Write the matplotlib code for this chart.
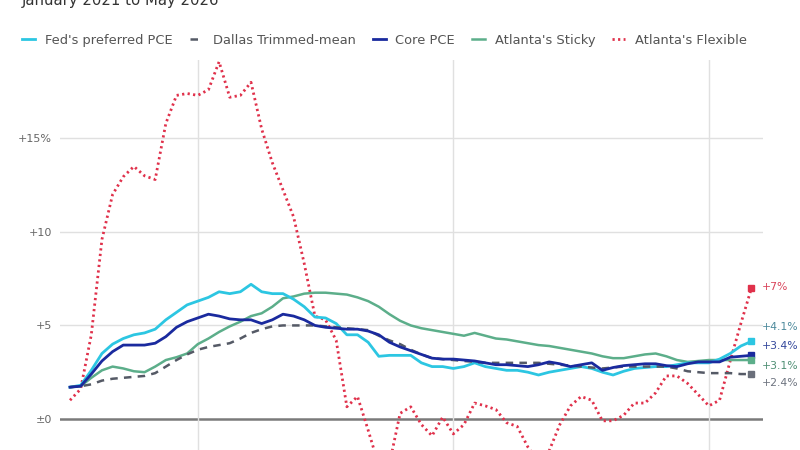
import numpy as np
import matplotlib.pyplot as plt

# monthly values, Jan 2021 .. May 2026 (65 months)
fed_pce = [1.7, 1.8, 2.6, 3.5, 4.0, 4.3, 4.5, 4.6, 4.8, 5.3, 5.7, 6.1, 6.3, 6.5, 6.8, 6.7,
           6.8, 7.2, 6.8, 6.7, 6.7, 6.4, 6.0, 5.45, 5.4, 5.1, 4.5, 4.5, 4.1, 3.35, 3.4, 3.4,
           3.4, 3.0, 2.8, 2.8, 2.7, 2.8, 3.0, 2.8, 2.7, 2.6, 2.6, 2.5, 2.35, 2.5, 2.6, 2.7,
           2.8, 2.7, 2.5, 2.35, 2.55, 2.7, 2.75, 2.8, 2.8, 2.9, 3.0, 3.0, 3.0, 3.2, 3.5, 3.9, 4.15]
dallas = [1.7, 1.75, 1.85, 2.05, 2.15, 2.2, 2.25, 2.3, 2.45, 2.8, 3.15, 3.45, 3.7, 3.85, 3.95, 4.05,
          4.3, 4.6, 4.8, 4.95, 5.0, 5.0, 5.0, 5.0, 4.95, 4.9, 4.85, 4.8, 4.75, 4.45, 4.2, 4.0,
          3.7, 3.45, 3.25, 3.2, 3.15, 3.1, 3.05, 3.0, 3.0, 3.0, 3.0, 3.0, 3.0, 2.95, 2.9, 2.85,
          2.8, 2.75, 2.7, 2.75, 2.8, 2.8, 2.8, 2.8, 2.8, 2.7, 2.55, 2.5, 2.45, 2.45, 2.45, 2.4, 2.4]
core_pce = [1.7, 1.75, 2.4, 3.1, 3.6, 3.95, 3.95, 3.95, 4.05, 4.4, 4.9, 5.2, 5.4, 5.6, 5.5, 5.35,
            5.3, 5.3, 5.1, 5.3, 5.6, 5.5, 5.3, 5.0, 4.9, 4.85, 4.8, 4.8, 4.7, 4.5, 4.1, 3.85,
            3.65, 3.45, 3.25, 3.2, 3.2, 3.15, 3.1, 3.0, 2.9, 2.9, 2.85, 2.8, 2.9, 3.05, 2.95, 2.8,
            2.9, 3.0, 2.6, 2.75, 2.85, 2.9, 2.95, 2.95, 2.85, 2.8, 2.95, 3.05, 3.05, 3.05, 3.3, 3.35, 3.4]
sticky = [1.7, 1.75, 2.2, 2.6, 2.8, 2.7, 2.55, 2.5, 2.8, 3.15, 3.3, 3.5, 4.0, 4.3, 4.65, 4.95,
          5.2, 5.5, 5.65, 6.0, 6.45, 6.55, 6.7, 6.75, 6.75, 6.7, 6.65, 6.5, 6.3, 6.0, 5.6, 5.25,
          5.0, 4.85, 4.75, 4.65, 4.55, 4.45, 4.6, 4.45, 4.3, 4.25, 4.15, 4.05, 3.95, 3.9, 3.8, 3.7,
          3.6, 3.5, 3.35, 3.25, 3.25, 3.35, 3.45, 3.5, 3.35, 3.15, 3.05, 3.1, 3.15, 3.15, 3.15, 3.15, 3.15]
flexible = [1.0, 1.6, 4.5, 9.6, 12.0, 12.95, 13.5, 13.0, 12.8, 15.8, 17.3, 17.4, 17.3, 17.6, 19.1, 17.2,
            17.3, 18.0, 15.5, 13.7, 12.25, 10.8, 8.3, 5.5, 5.3, 4.2, 0.65, 1.2, -0.6, -2.5, -2.4, 0.3,
            0.65, -0.3, -0.9, 0.1, -0.8, -0.3, 0.85, 0.7, 0.5, -0.2, -0.4, -1.5, -2.3, -1.7, -0.3, 0.7,
            1.2, 1.0, -0.1, -0.1, 0.2, 0.85, 0.85, 1.4, 2.3, 2.3, 1.9, 1.3, 0.7, 1.0, 3.1, 5.1, 7.0]

end_labels = ["+7%", "+4.1%", "+3.4%", "+3.1%", "+2.4%"]
label_y = [7.05, 4.9, 3.9, 2.85, 1.9]

months = np.arange(len(fed_pce))

fig = plt.figure(figsize=(8, 4.5), dpi=100)
ax = fig.add_axes([0.075, 0.0, 0.879, 0.867])

# grid
for v in [5, 10, 15]:
    ax.axhline(v, color='#e0e0e0', lw=1, zorder=0)
ax.axhline(0, color='#7a7a7a', lw=1.8, zorder=0)
for m in [12, 36, 60]:
    ax.axvline(m, color='#e0e0e0', lw=1, zorder=0)

ax.plot(months, flexible, color='#e0314b', lw=2, ls=(0, (0.8, 1.2)), label="Atlanta's Flexible", zorder=2)
ax.plot(months, sticky, color='#5cae8a', lw=1.8, label="Atlanta's Sticky", zorder=3)
ax.plot(months, dallas, color='#555a66', lw=1.8, ls=(0, (3, 2.5)), label="Dallas Trimmed-mean", zorder=4)
ax.plot(months, fed_pce, color='#2cc6e2', lw=2, label="Fed's preferred PCE", zorder=3)
ax.plot(months, core_pce, color='#1a2a9e', lw=2, label="Core PCE", zorder=5)

# end markers
ax.plot(months[-1], flexible[-1], 's', color='#e0314b', ms=4.5, zorder=6)
ax.plot(months[-1], fed_pce[-1], 's', color='#2cc6e2', ms=4, zorder=6)
ax.plot(months[-1], core_pce[-1], 's', color='#1a2a9e', ms=4, zorder=6)
ax.plot(months[-1], sticky[-1], 's', color='#5cae8a', ms=4, zorder=6)
ax.plot(months[-1], dallas[-1], 's', color='#6a6f7a', ms=4, zorder=6)

label_colors = ['#d9435a', '#4d8a9c', '#34489c', '#4f8f74', '#6e7480']
for t, y, c in zip(end_labels, label_y, label_colors):
    ax.text(65.0, y, t, color=c, fontsize=7.8, va='center', ha='left', clip_on=False)

ax.set_xlim(-0.94, 65.1)
ax.set_ylim(-1.66, 19.2)
ax.set_yticks([0, 5, 10, 15])
ax.set_yticklabels(["±0", "+5", "+10", "+15%"], color='#666666', fontsize=8)
ax.tick_params(axis='y', length=0, pad=6)
ax.set_xticks([])
for s in ax.spines.values():
    s.set_visible(False)

# legend in the reference order
h, l = ax.get_legend_handles_labels()
order = [3, 2, 4, 1, 0]
fig.legend([h[i] for i in order], [l[i] for i in order], loc='center left',
           bbox_to_anchor=(0.028, 0.911), ncol=5, frameon=False, fontsize=9.4,
           handlelength=1.0, handletextpad=0.75, columnspacing=1.3, labelcolor='#555555',
           borderaxespad=0, borderpad=0)

fig.text(0.027, 1.0, "January 2021 to May 2026", fontsize=10.7, color='#333333', va='center', ha='left')

fig.savefig('out.png', dpi=100, facecolor='white')
